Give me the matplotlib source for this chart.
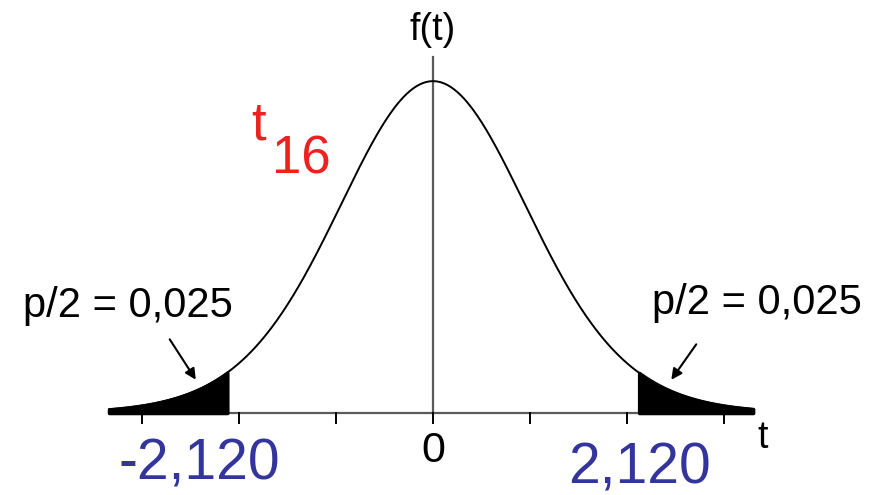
import math
import numpy as np
import matplotlib
matplotlib.use('Agg')
import matplotlib.pyplot as plt

plt.rcParams['font.family'] = ['Liberation Sans', 'DejaVu Sans']

# chart values
df = 16
t_crit = 2.120
half_p = 0.025
t_range = [-3.34, 3.30]
tick_pos = [-3, -2, -1, 0, 1, 2, 3]
crit_labels = ['-2,120', '2,120']
p_label = 'p/2 = 0,025'


def t_pdf(t, k):
    c = math.gamma((k + 1) / 2) / (math.sqrt(k * math.pi) * math.gamma(k / 2))
    return c * (1 + t ** 2 / k) ** (-(k + 1) / 2)


t = np.linspace(t_range[0], t_range[1], 600)
f = t_pdf(t, df)

fig = plt.figure(figsize=(8.8, 4.95), dpi=100)
ax = fig.add_axes([0, 0, 1, 1])
ax.set_xlim(-4.464, 4.608)
ax.set_ylim(-0.097, 0.4888)
ax.axis('off')

axis_col = '#5a5a5a'
blue = '#33359c'

# axes
ax.plot(t_range, [0, 0], color=axis_col, lw=1.6, zorder=2)
ax.plot([0, 0], [0, 0.421], color=axis_col, lw=1.6, zorder=2)
for x in tick_pos:
    ax.plot([x, x], [0, -0.012], color='black', lw=1.4, zorder=2)

# curve + tails
ax.plot(t, f, color='black', lw=1.4, zorder=3)
left = t <= -t_crit
right = t >= t_crit
ax.fill_between(t[left], 0, f[left], color='black', lw=2.5, zorder=4)
ax.fill_between(t[right], 0, f[right], color='black', lw=2.5, zorder=4)
ax.plot([-t_crit, -t_crit], [0, t_pdf(t_crit, df)], color='black', lw=1.4, zorder=4)
ax.plot([t_crit, t_crit], [0, t_pdf(t_crit, df)], color='black', lw=1.4, zorder=4)

# labels
ax.text(0, 0.453, 'f(t)', ha='center', va='center', fontsize=27)
ax.text(3.40, -0.030, 't', ha='center', va='center', fontsize=27)
ax.text(0, -0.045, '0', ha='center', va='center', fontsize=31)
ax.text(-2.41, -0.061, crit_labels[0], ha='center', va='center', fontsize=41, color=blue)
ax.text(2.13, -0.0655, crit_labels[1], ha='center', va='center', fontsize=41, color=blue)

ax.text(-1.80, 0.340, 't', ha='center', va='center', fontsize=38, color='#ee2020')
ax.text(-1.36, 0.300, str(df), ha='center', va='center', fontsize=38, color='#ee2020')

ax.text(-3.15, 0.127, p_label, ha='center', va='center', fontsize=30)
ax.text(3.34, 0.130, p_label, ha='center', va='center', fontsize=30)

arrow = dict(arrowstyle='-|>', color='black', lw=1.5, mutation_scale=16)
ax.annotate('', xy=(-2.43, 0.0367), xytext=(-2.73, 0.090), arrowprops=arrow, zorder=5)
ax.annotate('', xy=(2.44, 0.0367), xytext=(2.73, 0.084), arrowprops=arrow, zorder=5)

fig.savefig('out.png', dpi=100, facecolor='white')
